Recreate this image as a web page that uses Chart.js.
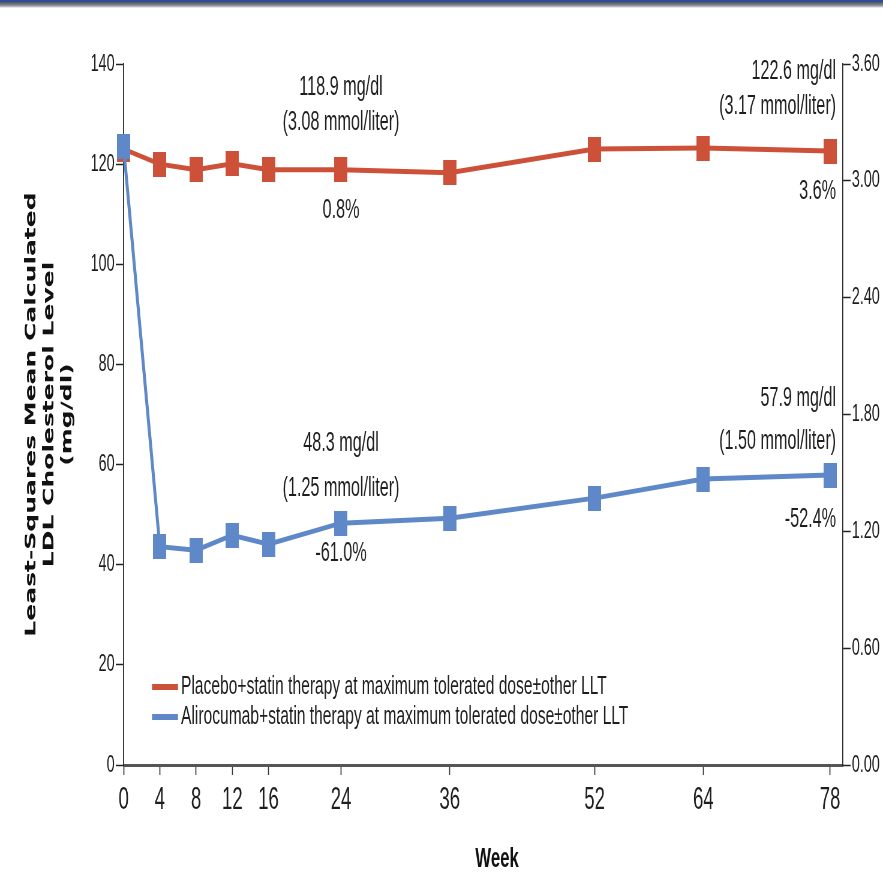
<!DOCTYPE html>
<html>
<head>
<meta charset="utf-8">
<title>LDL Cholesterol by Week</title>
<script src="https://cdn.jsdelivr.net/npm/chart.js@4.4.1/dist/chart.umd.min.js"></script>
<style>
  html, body { margin:0; padding:0; width:883px; height:888px; overflow:hidden; background:#fff; }
  .topbar {
    position:absolute; left:0; top:0; width:883px; height:8px; z-index:2;
    background:linear-gradient(to bottom, #2c4c94 0, #2c4c94 1.5px, #4f5561 2px, #6d727a 4px, #9da0a5 6px, #e6e6e6 7.5px, #fff 8px);
  }
  /* the figure is set in a condensed face, so the whole canvas is squeezed horizontally */
  #wrap { position:absolute; left:0; top:0; width:1472px; height:888px; transform:scaleX(0.59986); transform-origin:0 0; }
</style>
</head>
<body>
<div class="topbar"></div>
<div id="wrap"><canvas id="ldlChart" width="1472" height="888"></canvas></div>
<script>
/* ════════════════════════════
   DATA
════════════════════════════ */
const WEEKS       = [0, 4, 8, 12, 16, 24, 36, 52, 64, 78];
const PLACEBO     = [123.0, 120.0, 118.9, 120.1, 118.9, 118.9, 118.3, 123.0, 123.2, 122.6];
const ALIROCUMAB  = [123.5, 43.6, 42.9, 45.9, 44.1, 48.3, 49.3, 53.3, 57.1, 57.9];
const MGDL_TICKS  = [0, 20, 40, 60, 80, 100, 120, 140];
const MMOL_TICKS  = [0, 0.6, 1.2, 1.8, 2.4, 3.0, 3.6];
const SERIES_NAMES = [
  'Placebo+statin therapy at maximum tolerated dose±other LLT',
  'Alirocumab+statin therapy at maximum tolerated dose±other LLT',
];
// values called out at week 24 and week 78
const CALLOUT_WEEKS    = [24, 78];
const MMOL_PLACEBO     = [3.08, 3.17];
const MMOL_ALIROCUMAB  = [1.25, 1.50];
const PCT_PLACEBO      = ['0.8%', '3.6%'];
const PCT_ALIROCUMAB   = ['-61.0%', '-52.4%'];

/* ════════════════════════════
   STYLE
════════════════════════════ */
const RED  = '#cd5139';
const BLUE = '#5e88c7';
const INK  = '#1e1e1e';
const FONT = '"Liberation Sans", Arial, sans-serif';
const FONT_NARROW = '"Liberation Sans Narrow", "Liberation Sans", Arial, sans-serif';
const SX = 0.59986;               // css squeeze of the canvas

// tall rectangle markers (they get narrowed by the squeeze)
function marker(color) {
  const c = document.createElement('canvas');
  c.width = Math.round(13 / SX); c.height = 25;
  const g = c.getContext('2d');
  g.fillStyle = color; g.fillRect(0, 0, c.width, c.height);
  return c;
}

// where each callout block sits relative to its point: [value line, mmol line, % line]
const CALLOUTS = [
  { data: PLACEBO,    mmol: MMOL_PLACEBO,    pct: PCT_PLACEBO,    i: 0, align: 'center', dy: [-82, -47, 41], dx: 0 },
  { data: PLACEBO,    mmol: MMOL_PLACEBO,    pct: PCT_PLACEBO,    i: 1, align: 'right',  dy: [-80, -45, 40], dx: 10 },
  { data: ALIROCUMAB, mmol: MMOL_ALIROCUMAB, pct: PCT_ALIROCUMAB, i: 0, align: 'center', dy: [-80, -35, 30], dx: 0 },
  { data: ALIROCUMAB, mmol: MMOL_ALIROCUMAB, pct: PCT_ALIROCUMAB, i: 1, align: 'right',  dy: [-77, -34, 44], dx: 10 },
];

const annotations = {
  id: 'annotations',
  afterDraw(chart) {
    const { ctx, scales: { x, y } } = chart;
    ctx.save();
    ctx.fillStyle = INK;
    ctx.textBaseline = 'middle';
    ctx.font = '27px ' + FONT;

    CALLOUTS.forEach(c => {
      const week = CALLOUT_WEEKS[c.i];
      const v = c.data[WEEKS.indexOf(week)];
      const px = x.getPixelForValue(week) + c.dx;
      const py = y.getPixelForValue(v);
      ctx.textAlign = c.align;
      ctx.fillText(v.toFixed(1) + ' mg/dl', px, py + c.dy[0]);
      ctx.fillText('(' + c.mmol[c.i].toFixed(2) + ' mmol/liter)', px, py + c.dy[1]);
      ctx.fillText(c.pct[c.i], px, py + c.dy[2]);
    });

    // legend
    const colors = [RED, BLUE];
    ctx.textAlign = 'left';
    ctx.font = '26px ' + FONT;
    SERIES_NAMES.forEach((name, k) => {
      const ly = 687 + k * 30;
      ctx.fillStyle = colors[k];
      ctx.fillRect(152 / SX, ly - 3, 26 / SX, 6);
      ctx.fillStyle = INK;
      ctx.fillText(name, 181 / SX, ly);
    });

    // x axis title
    ctx.font = 'bold 28px ' + FONT;
    ctx.textAlign = 'center';
    ctx.fillStyle = '#111';
    ctx.fillText('Week', 497 / SX, 859);
    ctx.restore();
  }
};

/* ════════════════════════════
   CHART
════════════════════════════ */
function fixTicks(list) {
  return scale => { scale.ticks = list.map(v => ({ value: v })); };
}

new Chart(document.getElementById('ldlChart').getContext('2d'), {
  type: 'line',
  data: {
    labels: WEEKS,
    datasets: [
      {
        label: SERIES_NAMES[0],
        data: WEEKS.map((w, i) => ({ x: w, y: PLACEBO[i] })),
        borderColor: RED, backgroundColor: RED,
        borderWidth: 5, tension: 0,
        pointStyle: marker(RED), yAxisID: 'y',
        order: 1, clip: false,
      },
      {
        label: SERIES_NAMES[1],
        data: WEEKS.map((w, i) => ({ x: w, y: ALIROCUMAB[i] })),
        borderColor: BLUE, backgroundColor: BLUE,
        borderWidth: 5, tension: 0,
        pointStyle: marker(BLUE), yAxisID: 'y',
        order: 0, clip: false,
      },
    ]
  },
  options: {
    responsive: false,
    animation: false,
    devicePixelRatio: 1,
    layout: { padding: { top: 64, left: 0, right: 0, bottom: 0 } },
    plugins: { legend: { display: false }, tooltip: { enabled: false } },
    scales: {
      x: {
        type: 'linear', min: 0, max: 79.4,
        afterBuildTicks: fixTicks(WEEKS),
        afterFit: s => { s.height = 123; },
        ticks: { font: { family: FONT_NARROW, size: 31 }, color: INK, padding: 7, maxRotation: 0, autoSkip: false },
        grid: { drawOnChartArea: false, tickLength: 10, tickWidth: 1.7, tickColor: '#333' },
        border: { color: '#555', width: 3 },
      },
      y: {
        position: 'left', min: 0, max: 140,
        afterBuildTicks: fixTicks(MGDL_TICKS),
        afterFit: s => { s.width = 206; },
        ticks: { font: { family: FONT, size: 24 }, color: INK, padding: 2 },
        grid: { drawOnChartArea: false, tickLength: 13, tickWidth: 1.5, tickColor: '#222' },
        border: { color: '#222', width: 1.7 },
        title: {
          display: true,
          text: ['Least-Squares Mean Calculated', 'LDL Cholesterol Level', '(mg/dl)'],
          font: { family: '"DejaVu Sans", Verdana, sans-serif', weight: 'bold', size: 25, lineHeight: 1.2 },
          color: '#111',
          padding: { top: 37, bottom: 0 },
        },
      },
      y1: {
        position: 'right', min: 0, max: 3.6,
        afterBuildTicks: fixTicks(MMOL_TICKS),
        afterFit: s => { s.width = 67; },
        ticks: { font: { family: FONT, size: 24 }, color: INK, padding: 2, callback: v => v.toFixed(2) },
        grid: { drawOnChartArea: false, tickLength: 13, tickWidth: 1.5, tickColor: '#222' },
        border: { color: '#222', width: 1.7 },
      },
    }
  },
  plugins: [annotations]
});
</script>
</body>
</html>
